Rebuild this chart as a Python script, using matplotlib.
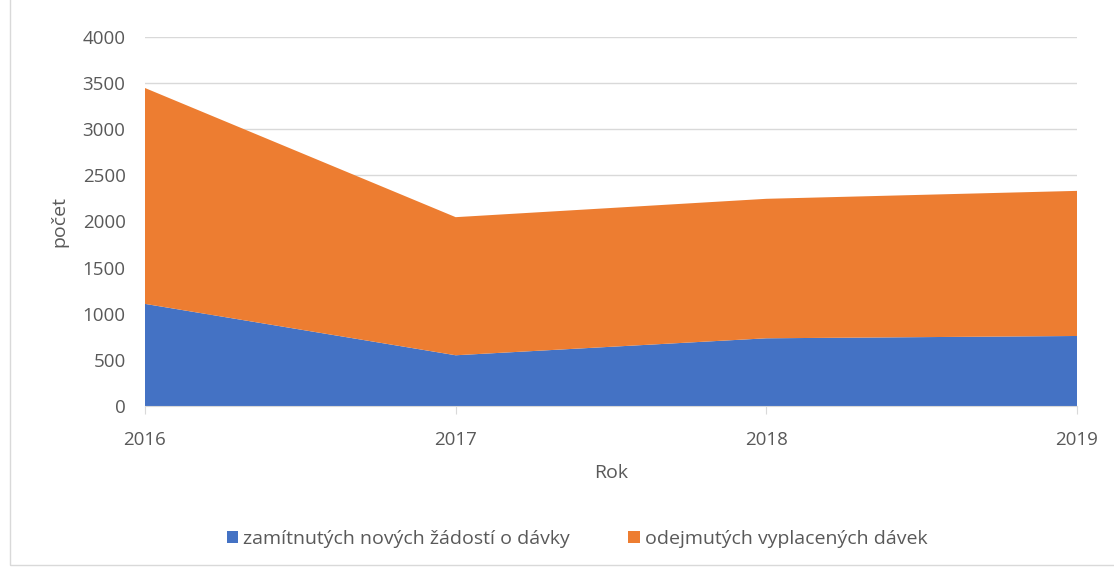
import matplotlib.pyplot as plt
from matplotlib.patches import Rectangle

years = [2016, 2017, 2018, 2019]
rejected = [1107, 550, 734, 759]
withdrawn = [2340, 1497, 1512, 1573]
labels = ['zamítnutých nových žádostí o dávky', 'odejmutých vyplacených dávek']
colors = ['#4472C4', '#ED7D31']

plt.rcParams['font.family'] = ['Open Sans', 'DejaVu Sans']
text_color = '#595959'

fig = plt.figure(figsize=(11.14, 5.69), dpi=100)
ax = fig.add_axes([145 / 1114, 1 - 406 / 569, (1077 - 145) / 1114, (406 - 37) / 569])

ax.stackplot(years, rejected, withdrawn, colors=colors, labels=labels, zorder=2)

ax.set_xlim(2016, 2019)
ax.set_ylim(0, 4000)
ax.set_xticks(years)
ax.set_yticks(range(0, 4001, 500))
ax.grid(axis='y', color='#d9d9d9', linewidth=1, zorder=0)
ax.set_axisbelow(True)

for s in ['top', 'right', 'left']:
    ax.spines[s].set_visible(False)
ax.spines['bottom'].set_color('#d9d9d9')
ax.spines['bottom'].set_zorder(3)
ax.tick_params(axis='y', length=0, pad=14, labelsize=13.5, labelcolor=text_color)
ax.tick_params(axis='x', length=6, color='#d9d9d9', pad=12, labelsize=13.5, labelcolor=text_color)

ax.set_ylabel('počet', fontsize=14, color=text_color, labelpad=10)
ax.set_xlabel('Rok', fontsize=14, color=text_color, labelpad=11)

ax.legend(loc='center', bbox_to_anchor=(0.4635, -0.36), ncol=2, frameon=False,
          fontsize=14, labelcolor=text_color, handlelength=0.6, handleheight=0.6,
          columnspacing=3.0, handletextpad=0.25)

fig.patches.append(Rectangle((10 / 1114, 4 / 569), 1.2, 1.2, transform=fig.transFigure,
                             fill=False, edgecolor='#d9d9d9', linewidth=1))

fig.savefig('out.png', dpi=100)
